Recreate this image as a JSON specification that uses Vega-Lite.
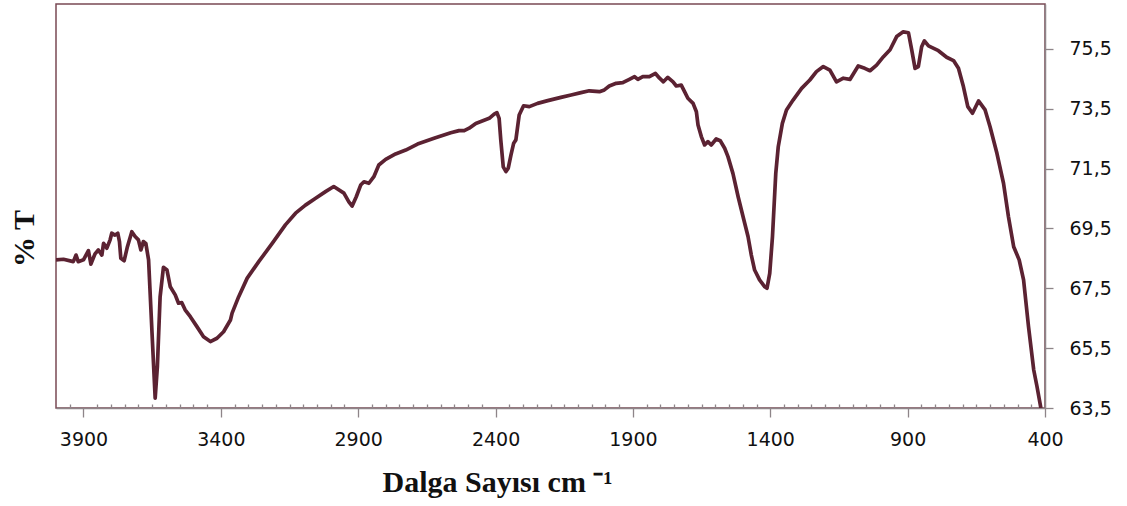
{
  "$schema": "https://vega.github.io/schema/vega-lite/v6.json",
  "width": 989,
  "height": 404,
  "autosize": {"type": "none"},
  "padding": {"left": 56, "top": 4, "right": 82, "bottom": 98},
  "background": "white",
  "config": {
    "view": {"stroke": "#7A4954", "strokeWidth": 1.5},
    "axis": {"grid": false, "domainColor": "#8E8589", "tickColor": "#8E8589", "domainWidth": 1.5, "tickWidth": 1.3}
  },
  "data": {"values": [
    {"wn": 4000, "T": 68.45}, {"wn": 3973, "T": 68.47}, {"wn": 3937, "T": 68.39}, {"wn": 3927, "T": 68.61},
    {"wn": 3919, "T": 68.39}, {"wn": 3900, "T": 68.45}, {"wn": 3882, "T": 68.76}, {"wn": 3873, "T": 68.31},
    {"wn": 3858, "T": 68.65}, {"wn": 3846, "T": 68.78}, {"wn": 3833, "T": 68.61}, {"wn": 3827, "T": 69.0},
    {"wn": 3815, "T": 68.84}, {"wn": 3803, "T": 69.12}, {"wn": 3797, "T": 69.34}, {"wn": 3785, "T": 69.28},
    {"wn": 3775, "T": 69.34}, {"wn": 3769, "T": 69.06}, {"wn": 3764, "T": 68.5}, {"wn": 3752, "T": 68.42},
    {"wn": 3740, "T": 68.89}, {"wn": 3724, "T": 69.39}, {"wn": 3712, "T": 69.23}, {"wn": 3700, "T": 69.12},
    {"wn": 3691, "T": 68.78}, {"wn": 3682, "T": 69.06}, {"wn": 3673, "T": 69.0}, {"wn": 3663, "T": 68.45},
    {"wn": 3651, "T": 66.11}, {"wn": 3639, "T": 63.83}, {"wn": 3631, "T": 64.88}, {"wn": 3621, "T": 67.22},
    {"wn": 3609, "T": 68.2}, {"wn": 3596, "T": 68.11}, {"wn": 3584, "T": 67.55}, {"wn": 3566, "T": 67.28},
    {"wn": 3554, "T": 67.0}, {"wn": 3542, "T": 67.02}, {"wn": 3530, "T": 66.78}, {"wn": 3511, "T": 66.55},
    {"wn": 3487, "T": 66.22}, {"wn": 3463, "T": 65.88}, {"wn": 3438, "T": 65.72}, {"wn": 3414, "T": 65.83},
    {"wn": 3390, "T": 66.05}, {"wn": 3365, "T": 66.44}, {"wn": 3359, "T": 66.67}, {"wn": 3335, "T": 67.22},
    {"wn": 3304, "T": 67.84}, {"wn": 3262, "T": 68.39}, {"wn": 3213, "T": 69.0}, {"wn": 3165, "T": 69.62},
    {"wn": 3128, "T": 70.01}, {"wn": 3092, "T": 70.28}, {"wn": 3055, "T": 70.51}, {"wn": 3019, "T": 70.73},
    {"wn": 2989, "T": 70.9}, {"wn": 2952, "T": 70.68}, {"wn": 2934, "T": 70.39}, {"wn": 2922, "T": 70.25},
    {"wn": 2907, "T": 70.56}, {"wn": 2891, "T": 70.95}, {"wn": 2879, "T": 71.06}, {"wn": 2861, "T": 71.01},
    {"wn": 2843, "T": 71.23}, {"wn": 2825, "T": 71.62}, {"wn": 2800, "T": 71.81}, {"wn": 2764, "T": 71.99},
    {"wn": 2727, "T": 72.12}, {"wn": 2684, "T": 72.32}, {"wn": 2624, "T": 72.51}, {"wn": 2563, "T": 72.7},
    {"wn": 2533, "T": 72.77}, {"wn": 2514, "T": 72.77}, {"wn": 2496, "T": 72.85}, {"wn": 2472, "T": 73.01},
    {"wn": 2423, "T": 73.18}, {"wn": 2405, "T": 73.32}, {"wn": 2395, "T": 73.37}, {"wn": 2387, "T": 73.18},
    {"wn": 2381, "T": 72.46}, {"wn": 2372, "T": 71.56}, {"wn": 2362, "T": 71.4}, {"wn": 2354, "T": 71.51},
    {"wn": 2344, "T": 71.95}, {"wn": 2334, "T": 72.35}, {"wn": 2326, "T": 72.46}, {"wn": 2314, "T": 73.29},
    {"wn": 2298, "T": 73.6}, {"wn": 2277, "T": 73.57}, {"wn": 2247, "T": 73.68}, {"wn": 2210, "T": 73.77},
    {"wn": 2162, "T": 73.88}, {"wn": 2125, "T": 73.96}, {"wn": 2089, "T": 74.04}, {"wn": 2059, "T": 74.1},
    {"wn": 2022, "T": 74.07}, {"wn": 2004, "T": 74.13}, {"wn": 1986, "T": 74.26}, {"wn": 1961, "T": 74.35},
    {"wn": 1937, "T": 74.37}, {"wn": 1913, "T": 74.48}, {"wn": 1894, "T": 74.57}, {"wn": 1882, "T": 74.48},
    {"wn": 1864, "T": 74.57}, {"wn": 1840, "T": 74.57}, {"wn": 1818, "T": 74.68}, {"wn": 1803, "T": 74.52},
    {"wn": 1789, "T": 74.4}, {"wn": 1773, "T": 74.55}, {"wn": 1754, "T": 74.4}, {"wn": 1742, "T": 74.26},
    {"wn": 1724, "T": 74.29}, {"wn": 1712, "T": 74.07}, {"wn": 1700, "T": 73.85}, {"wn": 1681, "T": 73.68},
    {"wn": 1669, "T": 73.4}, {"wn": 1663, "T": 72.96}, {"wn": 1651, "T": 72.57}, {"wn": 1639, "T": 72.29},
    {"wn": 1627, "T": 72.4}, {"wn": 1615, "T": 72.29}, {"wn": 1597, "T": 72.49}, {"wn": 1582, "T": 72.43},
    {"wn": 1566, "T": 72.18}, {"wn": 1554, "T": 71.9}, {"wn": 1536, "T": 71.34}, {"wn": 1517, "T": 70.56},
    {"wn": 1499, "T": 69.89}, {"wn": 1481, "T": 69.23}, {"wn": 1469, "T": 68.61}, {"wn": 1457, "T": 68.11},
    {"wn": 1439, "T": 67.78}, {"wn": 1420, "T": 67.55}, {"wn": 1412, "T": 67.5}, {"wn": 1402, "T": 68.0},
    {"wn": 1392, "T": 69.23}, {"wn": 1380, "T": 71.34}, {"wn": 1371, "T": 72.23}, {"wn": 1356, "T": 73.01},
    {"wn": 1341, "T": 73.46}, {"wn": 1317, "T": 73.79}, {"wn": 1286, "T": 74.18}, {"wn": 1256, "T": 74.46},
    {"wn": 1232, "T": 74.74}, {"wn": 1207, "T": 74.91}, {"wn": 1183, "T": 74.79}, {"wn": 1159, "T": 74.4},
    {"wn": 1134, "T": 74.52}, {"wn": 1110, "T": 74.48}, {"wn": 1080, "T": 74.93}, {"wn": 1056, "T": 74.85},
    {"wn": 1037, "T": 74.77}, {"wn": 1013, "T": 74.96}, {"wn": 988, "T": 75.24}, {"wn": 964, "T": 75.47},
    {"wn": 940, "T": 75.91}, {"wn": 916, "T": 76.07}, {"wn": 897, "T": 76.04}, {"wn": 885, "T": 75.46},
    {"wn": 873, "T": 74.85}, {"wn": 861, "T": 74.91}, {"wn": 849, "T": 75.57}, {"wn": 839, "T": 75.77},
    {"wn": 824, "T": 75.6}, {"wn": 788, "T": 75.44}, {"wn": 758, "T": 75.22}, {"wn": 733, "T": 75.11},
    {"wn": 715, "T": 74.85}, {"wn": 697, "T": 74.24}, {"wn": 681, "T": 73.57}, {"wn": 664, "T": 73.35},
    {"wn": 642, "T": 73.76}, {"wn": 618, "T": 73.46}, {"wn": 600, "T": 72.9}, {"wn": 575, "T": 72.01},
    {"wn": 551, "T": 71.01}, {"wn": 533, "T": 69.89}, {"wn": 514, "T": 68.89}, {"wn": 494, "T": 68.45},
    {"wn": 478, "T": 67.78}, {"wn": 460, "T": 66.22}, {"wn": 441, "T": 64.77}, {"wn": 429, "T": 64.21},
    {"wn": 415, "T": 63.5}
  ]},
  "mark": {"type": "line", "color": "#5B2232", "strokeWidth": 3.7, "clip": true, "strokeJoin": "round"},
  "encoding": {
    "x": {
      "field": "wn", "type": "quantitative",
      "scale": {"domain": [4000, 400], "nice": false, "zero": false},
      "axis": {
        "values": [3950,3900,3850,3800,3750,3700,3650,3600,3550,3500,3450,3400,3350,3300,3250,3200,3150,3100,3050,3000,2950,2900,2850,2800,2750,2700,2650,2600,2550,2500,2450,2400,2350,2300,2250,2200,2150,2100,2050,2000,1950,1900,1850,1800,1750,1700,1650,1600,1550,1500,1450,1400,1350,1300,1250,1200,1150,1100,1050,1000,950,900,850,800,750,700,650,600,550,500,450,400],
        "format": "d",
        "labelExpr": "(datum.value - 400) % 500 == 0 ? datum.label : ''",
        "labelOverlap": false,
        "labelFlush": false,
        "labelBound": false,
        "tickSize": {"condition": {"test": "(datum.value - 400) % 500 == 0", "value": 9}, "value": -4},
        "labelFont": "DejaVu Sans", "labelFontSize": 19, "labelColor": "#111111",
        "labelPadding": 13,
        "title": "Dalga Sayısı cm ⁻¹",
        "titleFont": "Liberation Serif", "titleFontWeight": "bold", "titleFontSize": 30, "titleColor": "#111111",
        "titleAnchor": "start", "titleX": 441, "titleY": 74, "titleAlign": "center", "titleBaseline": "middle"
      }
    },
    "y": {
      "field": "T", "type": "quantitative",
      "scale": {"domain": [63.5, 77], "nice": false, "zero": false},
      "axis": {
        "orient": "right",
        "values": [63.5, 65.5, 67.5, 69.5, 71.5, 73.5, 75.5],
        "labelExpr": "replace(format(datum.value, '.1f'), '.', ',')",
        "tickSize": 8,
        "labelFont": "DejaVu Sans", "labelFontSize": 19, "labelColor": "#111111",
        "labelPadding": 16,
        "labelOverlap": false, "labelFlush": false, "labelBound": false,
        "title": "% T",
        "titleFont": "Liberation Serif", "titleFontWeight": "bold", "titleFontSize": 30, "titleColor": "#111111",
        "titleAngle": 270, "titleX": -1021, "titleY": 234, "titleAlign": "center", "titleBaseline": "middle"
      }
    }
  }
}
